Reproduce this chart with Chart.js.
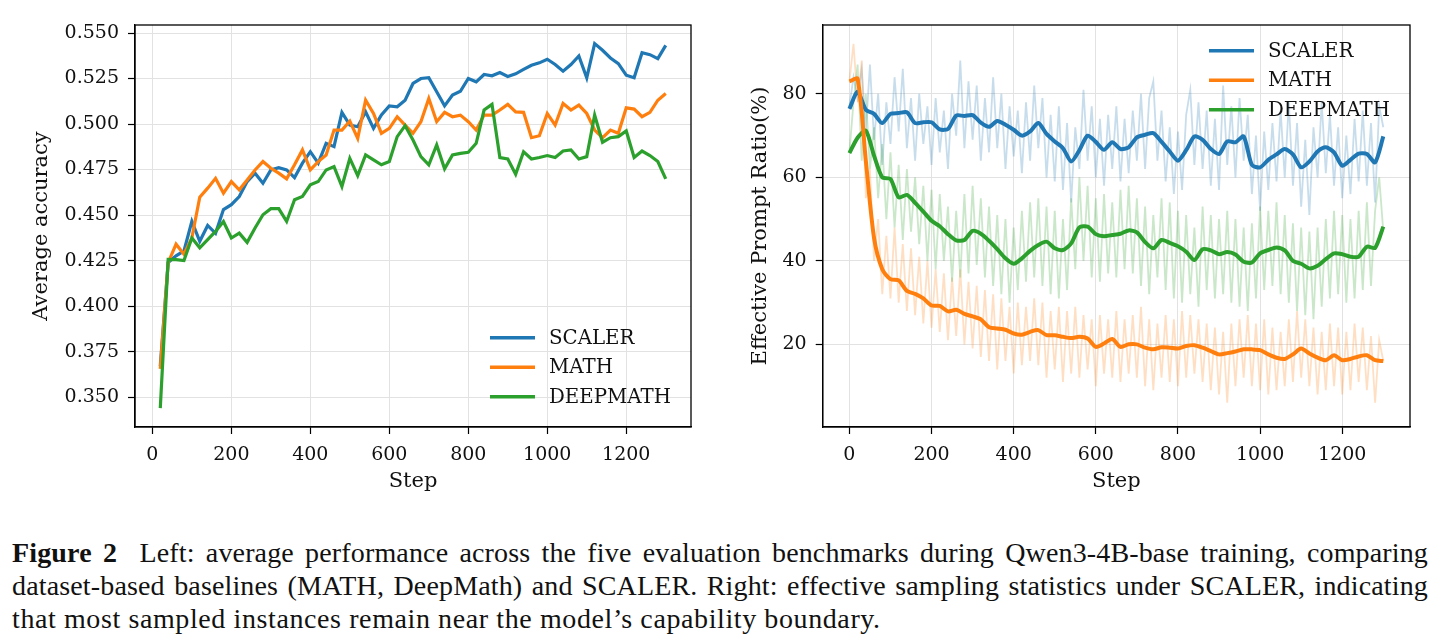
<!DOCTYPE html>
<html>
<head>
<meta charset="utf-8">
<script src="https://cdn.jsdelivr.net/npm/chart.js@4.4.1/dist/chart.umd.min.js"></script>
<style>
  body { margin: 0; background: #fff; width: 1442px; height: 643px; overflow: hidden; position: relative; }
  #left { position: absolute; left: 0; top: 0; }
  #right { position: absolute; left: 720px; top: 0; }
  #caption { position: absolute; left: 12px; top: 536px; width: 1416px; font-family: 'Liberation Serif', serif; font-size: 28px; line-height: 33px; color: #111; }
  .cl { white-space: nowrap; letter-spacing: 0.6px; }
  .j { text-align: justify; text-align-last: justify; letter-spacing: 0.15px; }
</style>
</head>
<body>
<canvas id="left" width="720" height="510"></canvas>
<canvas id="right" width="722" height="510"></canvas>
<div id="caption">
  <div class="cl j"><b>Figure 2</b>&nbsp; Left: average performance across the five evaluation benchmarks during Qwen3-4B-base training, comparing</div>
  <div class="cl j">dataset-based baselines (MATH, DeepMath) and SCALER. Right: effective sampling statistics under SCALER, indicating</div>
  <div class="cl">that most sampled instances remain near the model’s capability boundary.</div>
</div>
<script>
// ---- series names / colours ----
const seriesNames = ['SCALER', 'MATH', 'DEEPMATH'];
const seriesColors = ['#1f77b4', '#ff7f0e', '#2ca02c'];
const seriesFaint = ['rgba(31,119,180,0.25)', 'rgba(255,127,14,0.25)', 'rgba(44,160,44,0.25)'];

// ---- left: average accuracy, every 20 steps ----
const leftSteps = Array.from({ length: 65 }, (_, i) => 20 + i * 20);
const scalerAcc = [0.367, 0.424, 0.4276, 0.4303, 0.4465, 0.4356, 0.4443, 0.440, 0.453, 0.4557,
  0.4602, 0.4684, 0.473, 0.4675, 0.4748, 0.476, 0.4748, 0.4706, 0.4785, 0.4848,
  0.4785, 0.4894, 0.4876, 0.5064, 0.4994, 0.4985, 0.5067, 0.4976, 0.505, 0.510,
  0.5095, 0.5131, 0.5223, 0.525, 0.5255, 0.5177, 0.510, 0.5159, 0.518, 0.525,
  0.5232, 0.5272, 0.5265, 0.5283, 0.5261, 0.5276, 0.530, 0.5323, 0.5336, 0.5356,
  0.5327, 0.529, 0.5327, 0.5374, 0.5254, 0.5442, 0.5405, 0.5363, 0.5332, 0.5268,
  0.5254, 0.5392, 0.5381, 0.5359, 0.5432];
const mathAcc = [0.3655, 0.4239, 0.434, 0.4285, 0.4375, 0.4598, 0.4648, 0.4702, 0.462, 0.4684,
  0.4639, 0.4693, 0.4748, 0.4794, 0.4757, 0.473, 0.4699, 0.4776, 0.4858, 0.4748,
  0.4794, 0.483, 0.4967, 0.4967, 0.5016, 0.4921, 0.5131, 0.5058, 0.4949, 0.4976,
  0.504, 0.4994, 0.4949, 0.5013, 0.514, 0.5013, 0.5064, 0.504, 0.5049, 0.5013,
  0.4967, 0.5049, 0.5049, 0.5077, 0.5108, 0.5067, 0.5064, 0.4925, 0.4936, 0.5058,
  0.4994, 0.5113, 0.5077, 0.5104, 0.5058, 0.4967, 0.4925, 0.4967, 0.4949, 0.5089,
  0.5082, 0.504, 0.5064, 0.5131, 0.5168];
const deepAcc = [0.344, 0.4257, 0.4255, 0.425, 0.4374, 0.432, 0.4365, 0.441, 0.4465, 0.4374,
  0.4401, 0.435, 0.4429, 0.4502, 0.4535, 0.4535, 0.4465, 0.4584, 0.4602, 0.4666,
  0.4684, 0.4748, 0.4766, 0.4657, 0.4812, 0.4717, 0.483, 0.4803, 0.4776, 0.4794,
  0.4931, 0.4991, 0.4912, 0.4821, 0.4776, 0.4885, 0.4754, 0.483, 0.4839, 0.4845,
  0.4894, 0.5077, 0.5108, 0.4816, 0.4808, 0.4724, 0.4848, 0.4808, 0.4816, 0.4827,
  0.4816, 0.4852, 0.4858, 0.4808, 0.4821, 0.5049, 0.490, 0.4925, 0.4931, 0.4962,
  0.4816, 0.4852, 0.4827, 0.4794, 0.4699];

// ---- right: effective prompt ratio (%) ----
// smoothed curves, every 20 steps
const smoothSteps = Array.from({ length: 66 }, (_, i) => i * 20);
const scalerSmooth = [76.4, 80.5, 76.2, 75.2, 73.0, 75.2, 75.4, 75.6, 73.0, 73.2, 73.2, 71.5, 71.6, 74.8, 74.7, 74.9,
  73.1, 72.1, 73.5, 72.6, 71.4, 70.0, 71.0, 73.0, 70.4, 68.6, 67.0, 63.8, 66.5, 70.0, 68.5, 66.6,
  68.4, 66.8, 67.2, 69.6, 70.2, 70.6, 68.5, 66.2, 64.0, 66.5, 69.8, 69.0, 66.8, 65.6, 68.6, 68.4,
  69.8, 63.0, 62.4, 64.2, 65.5, 66.8, 65.5, 62.4, 63.8, 66.2, 67.2, 66.0, 62.8, 64.2, 65.7, 65.6, 63.6, 69.8];
const mathSmooth = [83.0, 83.6, 64.0, 45.5, 38.0, 35.6, 35.3, 32.8, 32.1, 31.0, 29.3, 29.2, 27.9, 28.3, 27.3, 26.7,
  26.0, 24.1, 23.8, 23.5, 22.6, 22.3, 23.0, 23.4, 22.2, 22.2, 21.8, 21.5, 21.8, 21.4, 19.4, 20.2,
  21.3, 19.4, 20.0, 20.0, 19.2, 18.8, 19.3, 19.2, 19.0, 19.6, 19.8, 19.2, 18.4, 17.6, 17.9, 18.3,
  18.8, 18.8, 18.6, 17.6, 16.8, 16.5, 17.6, 19.0, 17.8, 16.8, 16.2, 17.4, 16.2, 16.5, 17.1, 17.4, 16.2, 16.0];
const deepSmooth = [65.8, 69.5, 71.2, 65.2, 60.0, 59.6, 55.2, 55.8, 53.9, 51.8, 49.6, 48.3, 46.4, 44.9, 45.0, 47.2,
  46.5, 44.8, 42.8, 40.6, 39.3, 40.6, 42.4, 43.8, 44.6, 43.0, 42.6, 44.2, 48.0, 48.2, 46.4, 45.9,
  46.2, 46.5, 47.3, 46.8, 44.5, 43.0, 45.0, 44.3, 43.5, 42.2, 40.2, 42.8, 42.5, 41.6, 42.1, 41.5,
  39.8, 39.6, 41.8, 42.6, 43.2, 42.5, 40.0, 39.3, 38.2, 38.8, 40.4, 41.8, 41.6, 41.0, 41.0, 43.4, 43.1, 48.2];

// raw (faint) curves, every 10 steps
const rawSteps = Array.from({ length: 131 }, (_, i) => i * 10);
const scalerRaw = [77, 84, 79, 86, 71, 87, 69, 80, 63, 78,
  68, 84, 71, 86, 67, 79, 64, 80, 68, 77,
  63, 79, 66, 76, 62, 80, 70, 88, 67, 83,
  69, 82, 64, 79, 66, 84, 67, 80, 62, 77,
  65, 76, 61, 78, 64, 82, 67, 79, 60, 75,
  59, 77, 57, 73, 54, 72, 62, 81, 64, 77,
  60, 74, 58, 75, 62, 77, 59, 74, 61, 76,
  64, 80, 62, 79, 83, 64, 76, 59, 72, 56,
  71, 57, 75, 81, 63, 78, 62, 76, 58, 74,
  57, 82, 63, 77, 60, 79, 64, 75, 56, 70,
  52, 71, 57, 73, 59, 76, 60, 78, 58, 73,
  53, 69, 51, 72, 60, 78, 61, 75, 58, 72,
  55, 70, 56, 74, 59, 76, 58, 73, 54, 77, 72];
const mathRaw = [83, 92, 78, 88, 55, 62, 40, 50, 32, 46,
  31, 48, 30, 44, 28, 43, 27, 41, 25, 40,
  24, 38, 23, 37, 21, 36, 22, 38, 20, 35,
  19, 34, 17, 33, 16, 32, 14, 31, 16, 29,
  13, 30, 15, 29, 16, 31, 15, 30, 12, 28,
  14, 29, 11, 28, 13, 29, 12, 27, 14, 26,
  10, 27, 13, 26, 12, 28, 11, 26, 13, 27,
  12, 29, 10, 26, 9, 25, 12, 27, 11, 26,
  10, 28, 12, 27, 13, 26, 11, 25, 9, 24,
  8, 23, 6, 25, 10, 26, 12, 27, 10, 25,
  9, 26, 8, 24, 9, 23, 10, 26, 11, 28,
  12, 26, 10, 24, 8, 23, 9, 25, 10, 24,
  8, 23, 9, 25, 11, 24, 9, 22, 6, 21, 16];
const deepRaw = [66, 78, 87, 64, 80, 62, 72, 55, 68, 50,
  66, 48, 63, 45, 62, 47, 60, 44, 58, 40,
  57, 38, 56, 40, 53, 35, 52, 36, 56, 37,
  58, 39, 55, 36, 53, 34, 51, 32, 50, 30,
  48, 33, 52, 35, 54, 36, 55, 34, 53, 32,
  52, 31, 50, 33, 55, 38, 60, 40, 58, 36,
  55, 35, 56, 37, 54, 36, 57, 38, 58, 37,
  55, 34, 53, 32, 51, 36, 55, 33, 54, 31,
  52, 30, 51, 32, 48, 29, 53, 33, 51, 31,
  50, 32, 52, 30, 50, 29, 48, 28, 49, 31,
  53, 33, 52, 34, 54, 32, 51, 30, 49, 28,
  48, 27, 47, 26, 48, 29, 50, 31, 52, 32,
  51, 30, 50, 31, 52, 33, 54, 34, 52, 60, 47];

// ---- tick labels ----
const stepTicks = [0, 200, 400, 600, 800, 1000, 1200];
const accTicks = [0.350, 0.375, 0.400, 0.425, 0.450, 0.475, 0.500, 0.525, 0.550];
const ratioTicks = [20, 40, 60, 80];

Chart.defaults.font.family = 'DejaVu Serif';
Chart.defaults.color = '#111';

const tickFont = { family: 'DejaVu Serif', size: 19 };
const titleFont = { family: 'DejaVu Serif', size: 21 };
const gridColor = '#e2e2e2';

const toXY = (xs, ys) => ys.map((y, i) => ({ x: xs[i], y: y }));

// full black box round the plot area
const framePlugin = {
  id: 'frame',
  afterDatasetsDraw(chart) {
    const { ctx, chartArea: a } = chart;
    ctx.save();
    ctx.strokeStyle = '#000';
    ctx.lineWidth = 1.3;
    ctx.strokeRect(a.left, a.top, a.right - a.left, a.bottom - a.top);
    ctx.restore();
  }
};

// matplotlib-like legend drawn inside the axes
const lineLegend = {
  id: 'lineLegend',
  afterDraw(chart, args, opts) {
    const { ctx, chartArea: a } = chart;
    let y = opts.fromBottom ? a.bottom - opts.offsetY : a.top + opts.offsetY;
    ctx.save();
    ctx.font = '19.8px "DejaVu Serif"';
    ctx.textBaseline = 'middle';
    ctx.fillStyle = '#111';
    seriesNames.forEach((name, i) => {
      ctx.strokeStyle = seriesColors[i];
      ctx.lineWidth = 3.6;
      ctx.beginPath();
      ctx.moveTo(a.right - 201, y);
      ctx.lineTo(a.right - 156, y);
      ctx.stroke();
      ctx.fillText(name, a.right - 142, y + 1);
      y += 29.5;
    });
    ctx.restore();
  }
};

function xAxis(min, max) {
  return {
    type: 'linear', min: min, max: max,
    afterBuildTicks: s => { s.ticks = stepTicks.map(v => ({ value: v })); },
    afterFit: s => { s.height = 67; },
    grid: { color: gridColor, lineWidth: 1, tickColor: '#000', tickLength: 7, tickWidth: 1.2 },
    border: { color: '#000', width: 1.3 },
    ticks: { font: tickFont, padding: 10, maxRotation: 0, autoSkip: false, callback: v => String(v) },
    title: { display: true, text: 'Step', font: titleFont, padding: 0 }
  };
}

function yAxis(min, max, ticks, fmt, width, title) {
  return {
    min: min, max: max,
    afterBuildTicks: s => { s.ticks = ticks.map(v => ({ value: v })); },
    afterFit: s => { s.width = width; },
    grid: { color: gridColor, lineWidth: 1, tickColor: '#000', tickLength: 7, tickWidth: 1.2 },
    border: { color: '#000', width: 1.3 },
    ticks: { font: tickFont, padding: 9, autoSkip: false, callback: fmt },
    title: { display: true, text: title, font: titleFont, padding: 0 }
  };
}

const baseOptions = {
  responsive: false,
  animation: false,
  devicePixelRatio: 1,
  elements: { point: { radius: 0 }, line: { tension: 0 } },
  plugins: { legend: { display: false }, tooltip: { enabled: false } }
};

// left chart
const leftVals = [scalerAcc, mathAcc, deepAcc];
new Chart(document.getElementById('left'), {
  type: 'line',
  data: {
    datasets: leftVals.map((vals, i) => ({
      label: seriesNames[i],
      data: toXY(leftSteps, vals),
      borderColor: seriesColors[i],
      borderWidth: 3.2,
      order: 2 - i
    }))
  },
  options: {
    ...baseOptions,
    layout: { padding: { left: 29.4, top: 25, right: 29, bottom: 16 } },
    scales: {
      x: xAxis(-44, 1364),
      y: yAxis(0.3336, 0.5544, accTicks, v => v.toFixed(3), 105.6, 'Average accuracy')
    },
    plugins: { ...baseOptions.plugins, lineLegend: { fromBottom: true, offsetY: 89.3 } }
  },
  plugins: [framePlugin, lineLegend]
});

// right chart
const rawVals = [scalerRaw, mathRaw, deepRaw];
const smoothVals = [scalerSmooth, mathSmooth, deepSmooth];
const smoothOrder = [2, 0, 1];
const rightSets = [];
rawVals.forEach((vals, i) => rightSets.push({
  label: seriesNames[i] + ' raw',
  data: toXY(rawSteps, vals),
  borderColor: seriesFaint[i],
  borderWidth: 1.8,
  order: 5 - i
}));
smoothVals.forEach((vals, i) => rightSets.push({
  label: seriesNames[i],
  data: toXY(smoothSteps, vals),
  borderColor: seriesColors[i],
  borderWidth: 4,
  tension: 0.25,
  order: smoothOrder[i]
}));

new Chart(document.getElementById('right'), {
  type: 'line',
  data: { datasets: rightSets },
  options: {
    ...baseOptions,
    layout: { padding: { left: 28.4, top: 25, right: 32, bottom: 16 } },
    scales: {
      x: xAxis(-65, 1365),
      y: yAxis(0.2, 96.5, ratioTicks, v => String(v), 74.3, 'Effective Prompt Ratio(%)')
    },
    plugins: { ...baseOptions.plugins, lineLegend: { fromBottom: false, offsetY: 25.7 } }
  },
  plugins: [framePlugin, lineLegend]
});
</script>
</body>
</html>
